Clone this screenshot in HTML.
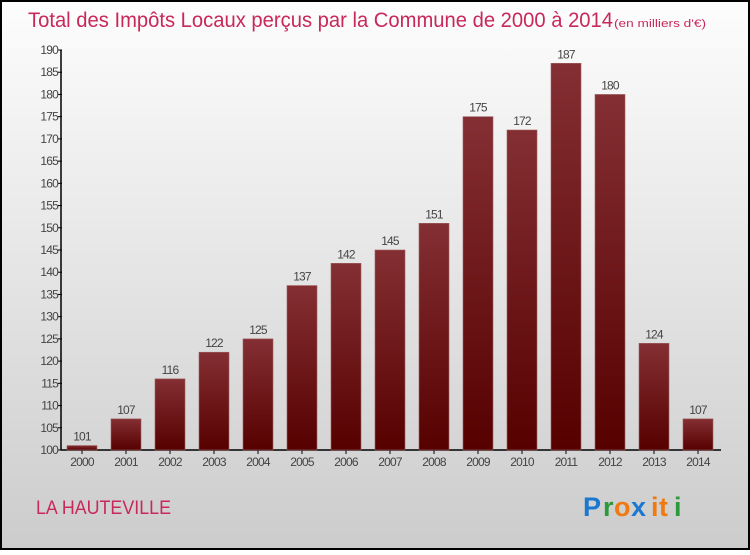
<!DOCTYPE html>
<html><head><meta charset="utf-8"><style>
html,body{margin:0;padding:0}
body{width:750px;height:550px;overflow:hidden;font-family:"Liberation Sans",sans-serif}
</style></head><body>
<svg width="750" height="550" xmlns="http://www.w3.org/2000/svg">
<defs>
<linearGradient id="bg" x1="0" y1="0" x2="0" y2="1"><stop offset="0" stop-color="#fdfdfd"/><stop offset="1" stop-color="#cccccc"/></linearGradient>
<linearGradient id="bar" x1="0" y1="0" x2="0" y2="1"><stop offset="0" stop-color="#842f33"/><stop offset="1" stop-color="#560000"/></linearGradient>
</defs>
<rect x="1" y="1" width="748" height="548" fill="url(#bg)" stroke="#000" stroke-width="2"/>
<text x="28" y="27" font-size="21" fill="#c8285a" textLength="585" lengthAdjust="spacingAndGlyphs">Total des Impôts Locaux perçus par la Commune de 2000 à 2014</text>
<text x="614" y="27" font-size="11" fill="#c8285a" textLength="92" lengthAdjust="spacingAndGlyphs">(en milliers d'€)</text>
<g id="axes"></g>
<g id="bars"></g>
<text x="36" y="514" font-size="19" fill="#c8285a" textLength="135" lengthAdjust="spacingAndGlyphs">LA HAUTEVILLE</text>
<g font-size="27" font-weight="bold" font-family="Liberation Sans, sans-serif">
<text x="583" y="516" fill="#1a78d0">P</text><text x="603" y="516" fill="#2a9a3a">r</text><text x="614" y="516" fill="#f07a10">o</text><text x="631" y="516" fill="#1a78d0">x</text><text x="651" y="516" fill="#f07a10">i</text><text x="659" y="516" fill="#f07a10">t</text><text x="674" y="516" fill="#2a9a3a">i</text>
</g>
</svg>
<script>
const years=["2000","2001","2002","2003","2004","2005","2006","2007","2008","2009","2010","2011","2012","2013","2014"];
const values=[101,107,116,122,125,137,142,145,151,175,172,187,180,124,107];
const yTicks=[100,105,110,115,120,125,130,135,140,145,150,155,160,165,170,175,180,185,190];
const NS="http://www.w3.org/2000/svg";
const y=v=>450-(v-100)*400/90;
const x=i=>82+i*44;
const ax=document.getElementById('axes'),bg=document.getElementById('bars');
function mk(tag,attrs,parent,txt){const e=document.createElementNS(NS,tag);for(const k in attrs)e.setAttribute(k,attrs[k]);if(txt!==undefined)e.textContent=txt;parent.appendChild(e);return e;}
let l=mk('line',{x1:61,y1:50,x2:61,y2:450,stroke:'#000','stroke-width':1.5},ax);


l=mk('line',{x1:61,y1:450,x2:721,y2:450,stroke:'#000','stroke-width':1.5},ax);


yTicks.forEach(t=>{
 mk('line',{x1:58,y1:y(t),x2:62,y2:y(t),stroke:'#000'},ax);
 const e=mk('text',{x:58,y:y(t)+4,'font-size':12,fill:'#444','text-anchor':'end','letter-spacing':'-0.8'},ax,t);
 
 
});
years.forEach((yr,i)=>{
 mk('line',{x1:x(i),y1:450,x2:x(i),y2:454,stroke:'#000'},ax);
 const t=mk('text',{x:x(i),y:466,'font-size':12,fill:'#444','text-anchor':'middle','letter-spacing':'-0.8'},ax,yr);
 
 
 const r=mk('rect',{x:x(i)-15,y:y(values[i]),width:30,height:450-y(values[i]),fill:'url(#bar)',stroke:'#a06060','stroke-width':0.6},bg);
 
 
 const v=mk('text',{x:x(i),y:y(values[i])-5,'font-size':12,fill:'#444','text-anchor':'middle','letter-spacing':'-0.8'},bg,values[i]);
 
 
});
</script>
</body></html>
